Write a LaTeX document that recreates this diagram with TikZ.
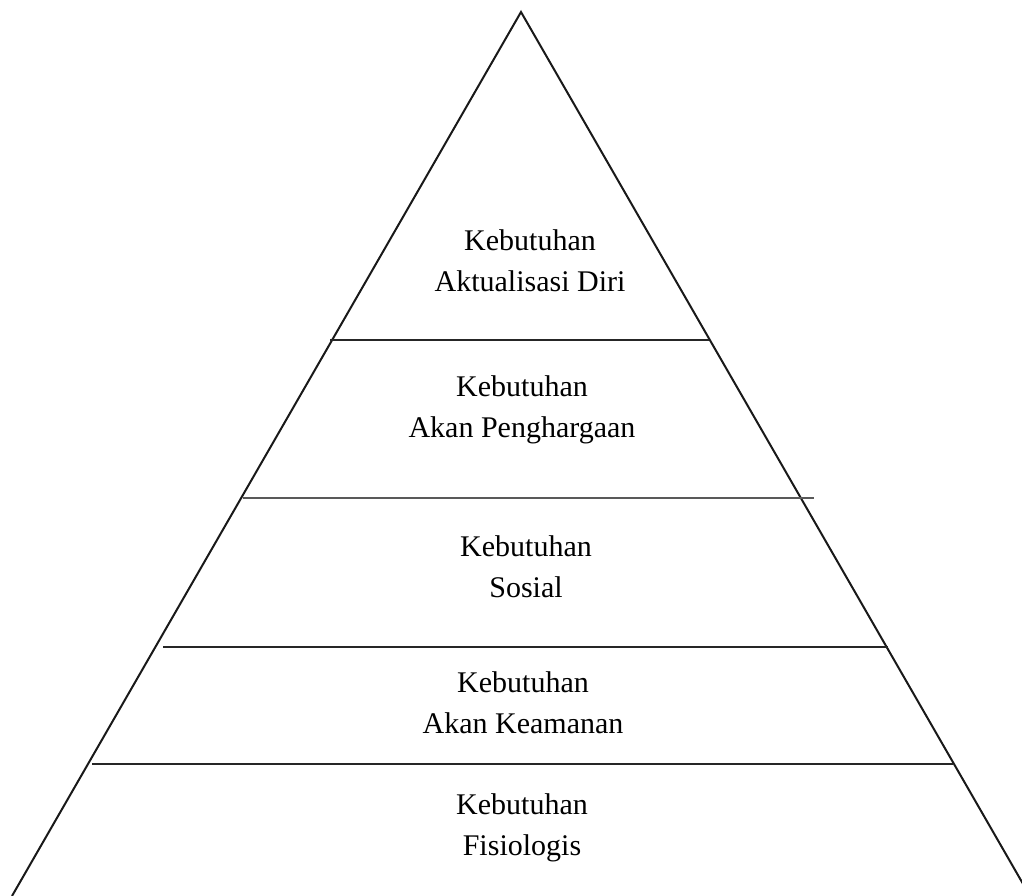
\documentclass[tikz,border=0pt]{standalone}
\usepackage{fontspec}
\setmainfont{Liberation Serif}
\usetikzlibrary{positioning}

\begin{document}
\begin{tikzpicture}[x=0.75pt,y=-0.75pt,
  side/.style={line width=1.5pt,black!90},
  level/.style={line width=0.8pt,black!85},
  label/.style={align=center,font=\fontsize{22.5}{31}\selectfont}]
\useasboundingbox (0,0) rectangle (1022,896);
\clip (0,0) rectangle (1022,896);

% Pyramid outline
\coordinate (top) at (521,12);
\coordinate (bl) at (12,896);
\coordinate (br) at (1030,896);
\draw[side] (bl) -- (top) -- (br);

% Level separators
\draw[level] (330,340) -- (709,340);
\draw[level,black!65] (243,498) -- (814,498);
\draw[level] (163,647) -- (888,647);
\draw[level] (92,764) -- (953,764);

% Level labels
\node[label] (self) at (530,261) {Kebutuhan\\Aktualisasi Diri};
\node[label] (esteem) at (522,410) {Kebutuhan\\Akan Penghargaan};
\node[label] (social) at (526,567) {Kebutuhan\\Sosial};
\node[label] (safety) at (523,703) {Kebutuhan\\Akan Keamanan};
\node[label] (physio) at (522,828) {Kebutuhan\\Fisiologis};
\end{tikzpicture}
\end{document}
